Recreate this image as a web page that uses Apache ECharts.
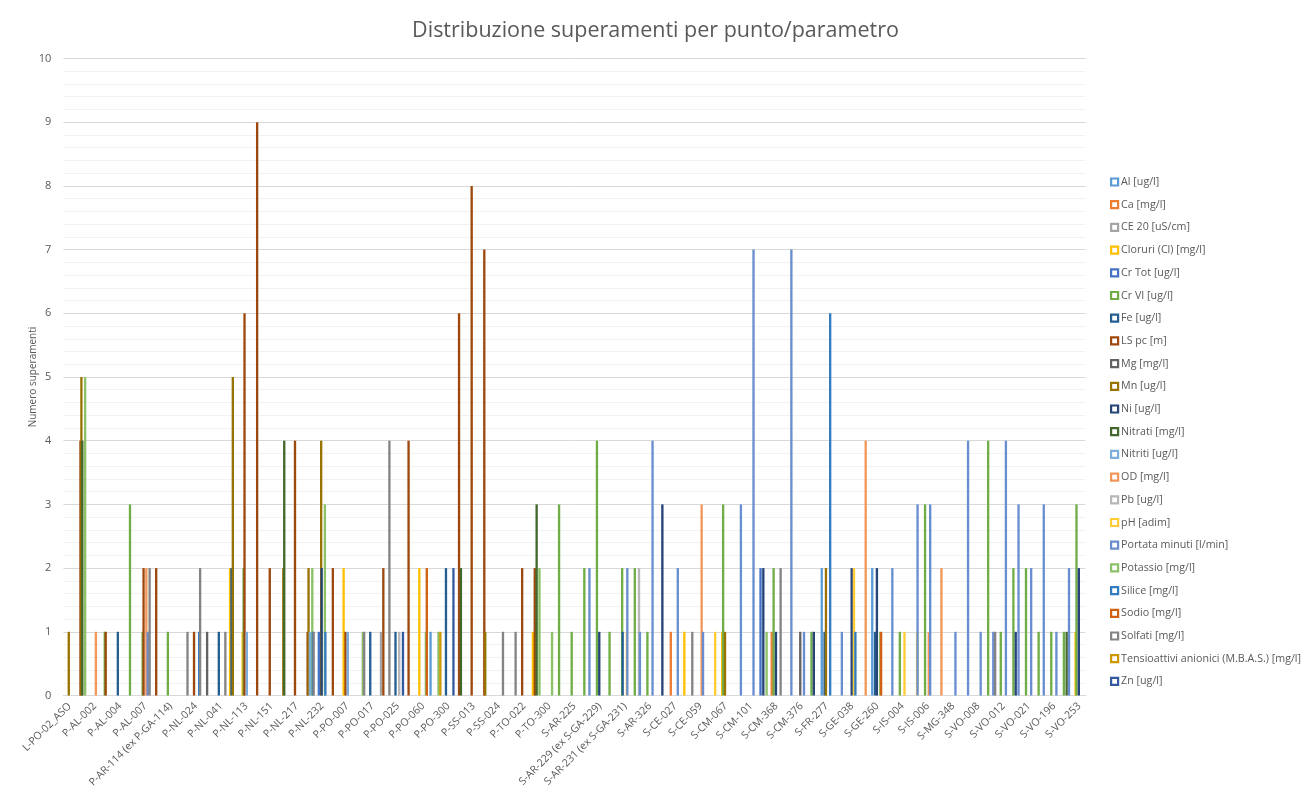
<!DOCTYPE html>
<html>
<head>
<meta charset="utf-8">
<script src="https://cdn.jsdelivr.net/npm/echarts@6/dist/echarts.min.js"></script>
<style>html,body{margin:0;padding:0;background:#fff}#c{width:1311px;height:798px}</style>
</head>
<body>
<div id="c"></div>
<script>
const categories = ['L-PO-02_ASO','','P-AL-002','','P-AL-004','','P-AL-007','','P-AR-114 (ex P-GA-114)','','P-NL-024','','P-NL-041','','P-NL-113','','P-NL-151','','P-NL-217','','P-NL-232','','P-PO-007','','P-PO-017','','P-PO-025','','P-PO-060','','P-PO-300','','P-SS-013','','P-SS-024','','P-TO-022','','P-TO-300','','S-AR-225','','S-AR-229 (ex S-GA-229)','','S-AR-231 (ex S-GA-231)','','S-AR-326','','S-CE-027','','S-CE-059','','S-CM-067','','S-CM-101','','S-CM-368','','S-CM-376','','S-FR-277','','S-GE-038','','S-GE-260','','S-IS-004','','S-IS-006','','S-MG-348','','S-VO-008','','S-VO-012','','S-VO-021','','S-VO-196','','S-VO-253'];

const seriesNames = ['Al [ug/l]','Ca [mg/l]','CE 20 [uS/cm]','Cloruri (Cl) [mg/l]','Cr Tot [ug/l]','Cr VI [ug/l]','Fe [ug/l]','LS pc [m]','Mg [mg/l]','Mn [ug/l]','Ni [ug/l]','Nitrati [mg/l]','Nitriti [ug/l]','OD [mg/l]','Pb [ug/l]','pH [adim]','Portata minuti [l/min]','Potassio [mg/l]','Silice [mg/l]','Sodio [mg/l]','Solfati [mg/l]','Tensioattivi anionici (M.B.A.S.) [mg/l]','Zn [ug/l]'];

const seriesColors = ['#5B9BD5','#ED7D31','#A5A5A5','#FFC000','#4472C4','#70AD47','#255E91','#9E480E','#636363','#997300','#264478','#43682B','#7CAFDD','#F1975A','#B7B7B7','#FFCD33','#698ED0','#8CC168','#327DC2','#D26012','#848484','#CC9A00','#335AA1'];

const yTicks = [0,1,2,3,4,5,6,7,8,9,10];

// values per category (81), 0 = no exceedance
const al = [0,0,0,0,0,0,0,0,0,0, 0,0,0,0,0,0,0,0,0,0, 0,0,0,0,0,0,0,0,0,1, 0,0,0,0,0,0,0,0,0,0, 0,0,0,0,0,0,0,0,0,0, 0,0,0,0,0,0,0,0,0,0, 2,0,0,0,2,0,0,0,0,0, 0,0,0,0,0,0,0,0,0,0, 0];
const ca = [0,0,0,0,0,0,0,0,0,0, 0,0,0,0,0,0,0,0,0,0, 0,0,0,0,0,0,0,0,0,0, 0,0,0,0,0,0,0,0,0,0, 0,0,0,0,0,0,0,0,1,0, 0,0,0,0,0,0,1,0,0,0, 0,0,0,0,0,0,0,0,0,0, 0,0,0,0,0,0,0,0,0,0, 0];
const ce20 = [0,0,0,0,0,0,0,0,0,0, 0,0,0,0,0,0,0,0,0,0, 0,0,0,0,0,1,0,0,0,0, 0,0,0,0,0,0,0,0,0,0, 0,0,0,0,0,0,0,0,0,0, 0,0,0,0,0,0,0,0,0,0, 0,0,0,0,0,0,0,0,0,0, 0,0,0,0,0,0,0,0,0,0, 0];
const cloruri = [0,0,0,0,0,0,0,0,0,0, 0,0,0,2,1,0,0,0,0,0, 0,0,2,0,0,0,0,0,2,0, 0,0,0,0,0,0,0,1,0,0, 0,0,0,0,0,0,0,0,0,1, 0,0,1,0,0,0,0,0,0,0, 0,0,0,0,0,0,0,0,0,0, 0,0,0,0,0,0,0,0,0,0, 1];
const crTot = [0,0,0,0,0,0,0,0,0,0, 0,0,0,0,0,0,0,0,0,0, 1,0,0,0,0,0,0,0,0,0, 0,0,0,0,0,0,0,0,0,0, 0,0,0,0,0,0,0,0,0,0, 0,0,0,0,0,2,0,0,0,0, 0,0,0,0,0,0,0,0,0,0, 0,0,0,0,0,0,0,0,0,0, 0];
const crVI = [0,0,0,1,0,3,1,0,1,0, 0,0,0,0,2,0,0,0,0,0, 0,0,0,0,0,0,0,0,0,0, 0,0,0,0,0,0,0,0,0,3, 1,2,4,1,2,2,1,0,0,0, 0,0,3,0,0,0,2,0,0,1, 0,0,0,0,0,0,1,0,3,0, 0,0,0,4,1,2,2,1,1,1, 3];
const fe = [0,0,0,0,1,0,0,0,0,0, 0,0,1,2,0,0,0,0,0,0, 0,0,0,0,1,0,1,0,0,0, 2,0,0,0,0,0,0,0,0,0, 0,0,0,0,1,0,0,0,0,0, 0,0,0,0,0,0,0,0,0,0, 1,0,0,0,1,0,0,0,0,0, 0,0,0,0,0,0,0,0,0,0, 0];
const lsPc = [0,4,0,1,0,0,2,2,0,0, 1,0,0,0,6,9,2,0,4,1, 0,2,1,0,0,2,0,4,0,0, 0,6,8,7,0,0,2,2,0,0, 0,0,0,0,0,0,0,0,0,0, 0,0,0,0,0,0,0,0,0,0, 0,0,0,0,0,0,0,0,0,0, 0,0,0,0,0,0,0,0,0,0, 0];
const mg = [0,0,0,0,0,0,0,0,0,0, 0,1,0,0,0,0,0,0,0,0, 0,0,0,0,0,0,0,0,0,0, 0,0,0,0,0,0,0,0,0,0, 0,0,0,0,0,0,0,0,0,0, 0,0,0,0,0,0,0,0,1,0, 0,0,0,0,0,0,0,0,0,0, 0,0,0,0,0,0,0,0,0,0, 0];
const mn = [1,5,0,0,0,0,0,0,0,0, 0,0,0,5,0,0,0,2,0,2, 4,0,0,0,0,0,0,0,0,0, 0,0,0,1,0,0,0,0,0,0, 0,0,0,0,0,0,0,0,0,0, 0,0,1,0,0,0,0,0,0,0, 2,0,0,0,0,0,0,0,0,0, 0,0,0,0,0,0,0,0,0,0, 0];
const ni = [0,0,0,0,0,0,0,0,0,0, 0,0,0,0,0,0,0,0,0,0, 2,0,0,0,0,0,0,0,0,0, 0,0,0,0,0,0,0,0,0,0, 0,0,1,0,0,0,0,3,0,0, 0,0,0,0,0,2,1,0,0,1, 0,0,2,0,2,0,0,0,0,0, 0,0,0,0,0,1,0,0,0,0, 2];
const nitrati = [0,4,0,0,0,0,0,0,0,0, 0,0,0,0,0,0,0,4,0,0, 0,0,0,0,0,0,0,0,0,0, 0,2,0,0,0,0,0,3,0,0, 0,0,0,0,0,0,0,0,0,0, 0,0,0,0,0,0,0,0,0,0, 0,0,0,0,0,0,0,0,0,0, 0,0,0,0,0,0,0,0,0,1, 0];
const nitriti = [0,0,0,0,0,0,0,0,0,0, 0,0,0,0,1,0,0,0,0,1, 0,0,1,0,0,0,0,0,0,0, 0,0,0,0,0,0,0,0,0,0, 0,0,0,0,0,0,0,0,0,0, 0,0,0,0,0,0,0,0,0,0, 0,0,0,0,0,0,0,0,0,0, 0,0,0,0,0,0,0,0,0,0, 0];
const od = [0,0,1,0,0,0,2,0,0,0, 0,0,0,0,0,0,0,0,0,0, 0,0,0,0,0,0,0,0,0,0, 0,0,0,0,0,0,0,0,0,0, 0,0,0,0,0,0,0,0,0,0, 3,0,0,0,0,0,0,0,0,0, 0,0,0,4,0,0,0,0,1,2, 0,0,0,0,0,0,0,0,0,0, 0];
const pb = [0,0,0,0,0,0,0,0,0,0, 0,0,0,0,0,0,0,0,0,0, 0,0,0,0,0,0,1,0,0,0, 0,0,0,0,0,0,0,0,0,0, 0,0,0,0,0,2,0,0,0,0, 0,0,0,0,0,0,0,0,0,0, 0,0,0,0,0,0,0,0,0,0, 0,0,0,0,0,0,0,0,0,0, 0];
const ph = [0,0,0,0,0,0,0,0,0,0, 0,0,0,0,0,0,0,0,0,0, 0,0,0,0,0,0,0,0,0,0, 0,0,0,0,0,0,0,0,0,0, 0,0,0,0,1,0,0,0,0,0, 0,1,0,0,0,0,0,0,0,0, 0,0,2,0,0,0,1,1,0,0, 0,0,0,0,0,0,0,0,0,0, 0];
const portata = [0,0,0,0,0,0,1,0,0,0, 0,0,0,0,0,0,0,0,0,0, 0,0,0,0,0,0,0,0,0,0, 0,0,0,0,0,0,0,0,0,0, 0,2,0,0,2,1,4,0,2,0, 1,0,0,3,7,0,0,7,1,0, 0,1,0,0,0,2,0,3,3,0, 1,4,1,1,4,3,2,3,1,2, 0];
const potassio = [0,5,0,0,0,0,0,0,0,0, 0,0,0,0,0,0,0,0,0,2, 3,0,0,1,0,0,0,0,1,1, 0,0,0,0,0,0,0,2,1,0, 0,0,0,0,0,0,0,0,0,0, 0,0,0,0,0,1,0,0,0,0, 0,0,0,0,1,0,0,0,0,0, 0,0,0,0,0,0,0,0,0,0, 0];
const silice = [0,0,0,0,0,0,0,0,0,0, 1,0,0,0,0,0,0,0,0,1, 1,0,0,0,0,0,0,0,0,0, 0,0,0,0,0,0,0,0,0,0, 0,0,0,0,0,0,0,0,0,0, 0,0,0,0,0,0,0,0,0,0, 6,0,1,0,0,0,0,0,0,0, 0,0,0,0,0,0,0,0,0,0, 0];
const sodio = [0,0,0,0,0,0,0,0,0,0, 0,0,0,0,0,0,0,0,0,0, 0,0,0,0,0,0,0,0,2,0, 0,0,0,0,0,0,0,0,0,0, 0,0,0,0,0,0,0,0,0,0, 0,0,0,0,0,0,0,0,0,0, 0,0,0,0,1,0,0,0,0,0, 0,0,0,0,0,0,0,0,0,0, 0];
const solfati = [0,0,0,0,0,0,2,0,0,1, 2,0,1,0,0,0,0,0,0,1, 0,0,0,1,0,4,0,0,0,0, 0,0,0,0,1,1,0,0,0,0, 0,0,0,0,0,0,0,0,0,1, 0,0,0,0,0,0,2,0,0,0, 0,0,0,0,0,0,0,0,0,0, 0,0,0,1,0,0,0,0,0,0, 0];
const tensioattivi = [0,0,0,0,0,0,0,0,0,0, 0,0,0,0,0,0,0,0,0,0, 0,0,0,0,0,0,0,0,0,1, 0,0,0,0,0,0,0,0,0,0, 0,0,0,0,0,0,0,0,0,0, 0,0,0,0,0,0,0,0,0,0, 0,0,0,0,0,0,0,0,0,0, 0,0,0,0,0,0,0,0,0,0, 0];
const zn = [0,0,0,0,0,0,0,0,0,0, 0,0,0,0,0,0,0,0,0,0, 0,0,0,0,0,0,1,0,0,0, 2,0,0,0,0,0,0,0,0,0, 0,0,0,0,0,0,0,0,0,0, 0,0,0,0,0,0,0,0,0,0, 0,0,0,0,0,0,0,0,0,0, 0,0,0,0,0,0,0,0,0,0, 0];

const seriesValues = [al, ca, ce20, cloruri, crTot, crVI, fe, lsPc, mg, mn, ni, nitrati, nitriti, od, pb, ph, portata, potassio, silice, sodio, solfati, tensioattivi, zn];

const FONT = 'Open Sans';
const TXT = '#595959';

const chart = echarts.init(document.getElementById('c'), null, {renderer: 'canvas'});
const series = seriesNames.map((name, i) => ({
  name: name,
  type: 'bar',
  barCategoryGap: '0%',
  barGap: '-80%',
  itemStyle: {color: seriesColors[i]},
  emphasis: {disabled: true},
  data: seriesValues[i].map(v => v === 0 ? '-' : v)
}));

chart.setOption({
  animation: false,
  backgroundColor: '#fff',
  textStyle: {fontFamily: FONT},
  title: {
    text: 'Distribuzione superamenti per punto/parametro',
    left: 'center',
    top: 15,
    textStyle: {fontFamily: FONT, fontSize: 21.5, fontWeight: 'normal', color: TXT}
  },
  legend: {
    orient: 'vertical',
    left: 1105,
    top: 171,
    itemWidth: 7,
    itemHeight: 7,
    itemGap: 10.7,
    icon: 'rect',
    textStyle: {fontFamily: FONT, fontSize: 10.7, color: TXT, lineHeight: 12, padding: [0,0,0,-2]},
    data: seriesNames.map((n, i) => ({
      name: n,
      itemStyle: {color: '#ffffff', borderColor: seriesColors[i], borderWidth: 2.2}
    }))
  },
  grid: {left: 63.4, right: 225.4, top: 58.5, bottom: 102.5, outerBoundsMode: 'none'},
  xAxis: {
    type: 'category',
    data: categories,
    axisLine: {lineStyle: {color: '#d9d9d9'}},
    axisTick: {show: false},
    axisLabel: {interval: 1, rotate: 45, fontSize: 10.5, color: TXT, fontFamily: FONT, margin: 9}
  },
  yAxis: {
    type: 'value',
    min: yTicks[0],
    max: yTicks[yTicks.length - 1],
    interval: 1,
    name: 'Numero superamenti',
    nameLocation: 'middle',
    nameGap: 25,
    nameMoveOverlap: false,
    nameRotate: 90,
    nameTextStyle: {fontFamily: FONT, fontSize: 10, color: TXT},
    axisLine: {show: false},
    axisTick: {show: false},
    axisLabel: {fontSize: 11, color: TXT, fontFamily: FONT, margin: 12},
    splitLine: {lineStyle: {color: '#d9d9d9'}},
    minorTick: {show: false, splitNumber: 5},
    minorSplitLine: {show: true, lineStyle: {color: '#f2f2f2'}}
  },
  series: series
});
</script>
</body>
</html>
